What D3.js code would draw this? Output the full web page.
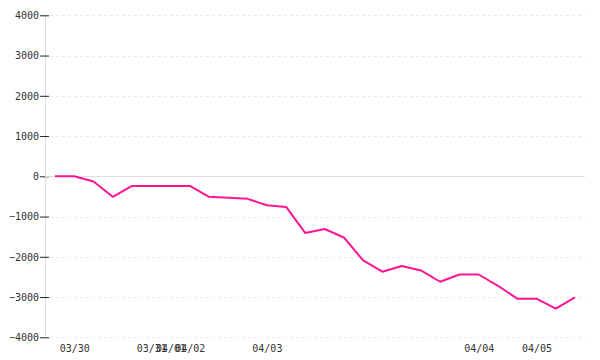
<!DOCTYPE html>
<html>
<head>
<meta charset="utf-8">
<script src="https://cdn.jsdelivr.net/npm/d3@7"></script>
<style>
  html, body { margin: 0; padding: 0; background: #fff; }
  svg { display: block; }
  text { font-family: "DejaVu Sans Mono", "Liberation Mono", monospace; font-size: 10px; fill: #333; }
</style>
</head>
<body>
<svg id="chart" width="600" height="360"></svg>
<script>
const categories = d3.range(28);
const values = [0, 0, -130, -510, -240, -240, -240, -240, -510, -530, -560, -720, -760, -1410,
  -1310, -1520, -2090, -2370, -2230, -2340, -2620, -2440, -2440, -2720, -3040, -3040, -3290, -3010];
const tickIndex = [1, 5, 6, 7, 11, 22, 25];
const tickLabels = ["03/30", "03/31", "04/01", "04/02", "04/03", "04/04", "04/05"];
const yTicks = [4000, 3000, 2000, 1000, 0, -1000, -2000, -3000, -4000];

const svg = d3.select("#chart");
const x = d3.scalePoint().domain(categories).range([55, 575]);
const y = d3.scaleLinear().domain([-4000, 4000]).range([337.3, 15.3]);
const axisX = 45, gridX0 = 50, gridX1 = 585;

// grid lines
svg.append("g").selectAll("line").data(yTicks.filter(d => d !== 0)).join("line")
  .attr("x1", gridX0).attr("x2", gridX1)
  .attr("y1", d => Math.round(y(d)) + 0.5).attr("y2", d => Math.round(y(d)) + 0.5)
  .attr("stroke", "#ebebeb").attr("stroke-dasharray", "3,3");

// y axis line
svg.append("line").attr("x1", axisX + 0.5).attr("x2", axisX + 0.5)
  .attr("y1", y(4000)).attr("y2", y(-4000)).attr("stroke", "#ddd");

// y axis ticks and labels
const yAxis = d3.axisLeft(y).tickValues(yTicks).tickSize(5).tickPadding(1).tickFormat(d3.format("d"));
const gy = svg.append("g").attr("transform", `translate(${axisX},0)`).call(yAxis);
gy.select(".domain").remove();
gy.selectAll(".tick line").attr("x1", -5).attr("x2", 4).attr("stroke", "#222");
gy.selectAll(".tick text").attr("fill", "#333").style("font-family", "DejaVu Sans Mono, monospace").style("font-size", "10px")
  .text(d => d < 0 ? "\u2212" + Math.abs(d) : String(d));

// zero line
svg.append("line").attr("x1", axisX).attr("x2", gridX1)
  .attr("y1", Math.round(y(0)) + 0.5).attr("y2", Math.round(y(0)) + 0.5).attr("stroke", "#ddd");

// x axis labels
const xAxis = d3.axisBottom(x).tickValues(tickIndex).tickSize(0).tickPadding(8)
  .tickFormat((d, i) => tickLabels[i]);
const gx = svg.append("g").attr("transform", `translate(0,${y(-4000)})`).call(xAxis);
gx.select(".domain").remove();
gx.selectAll(".tick text").attr("fill", "#333").style("font-family", "DejaVu Sans Mono, monospace").style("font-size", "10px");

// line
const line = d3.line().x((d, i) => x(categories[i])).y(d => y(d));
svg.append("path").datum(values).attr("d", line)
  .attr("fill", "none").attr("stroke", "#ff1493").attr("stroke-width", 2)
  .attr("stroke-linejoin", "round");
</script>
</body>
</html>
